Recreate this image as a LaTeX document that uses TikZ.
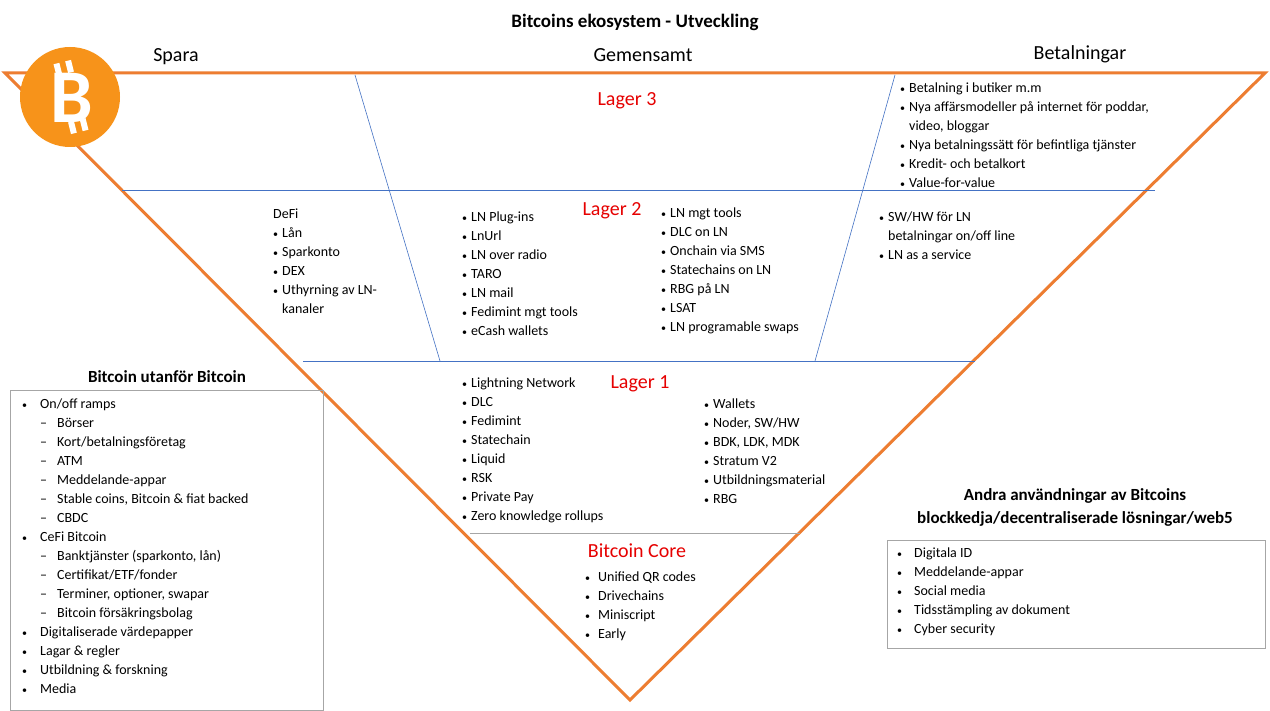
\documentclass[tikz,border=0pt]{standalone}
\usepackage{fontspec}
\setmainfont{Carlito}
\definecolor{org}{RGB}{237,125,49}
\definecolor{btc}{RGB}{247,147,26}
\definecolor{ln}{RGB}{68,114,196}
\definecolor{lred}{RGB}{230,0,0}
\newcommand\bx{{\fontsize{10}{10}\selectfont\textbullet}}
\begin{document}
\begin{tikzpicture}[x=1pt,y=-1pt,
  lst/.style={anchor=north west,inner sep=0pt,font=\fontsize{14}{19}\selectfont,align=left},
  hd/.style={font=\fontsize{20}{22}\selectfont},
  lag/.style={font=\fontsize{20}{22}\selectfont,text=lred},
  ttl/.style={font=\bfseries\fontsize{17}{23}\selectfont},
  bl/.style={line width=0.6pt,draw=ln}]
\useasboundingbox (0,0) rectangle (1270,711);
\fill[white] (0,0) rectangle (1270,711);
% triangle
\coordinate (tl) at (5,73); \coordinate (tr) at (1265,73); \coordinate (ap) at (630,700);
\draw[org,line width=3pt,line join=miter] (tl) -- (tr) -- (ap) -- cycle;
% inner lines
\coordinate (a1) at (122,190); \coordinate (a2) at (1155,190);
\coordinate (b1) at (303,361); \coordinate (b2) at (975,361);
\coordinate (c1) at (470,533); \coordinate (c2) at (800,533);
\coordinate (d1) at (355,75); \coordinate (d2) at (440,361);
\coordinate (e1) at (895,75); \coordinate (e2) at (815,361);
\draw[bl] (a1)--(a2); \draw[bl] (b1)--(b2); \draw[bl] (d1)--(d2); \draw[bl] (e1)--(e2);
\draw[line width=0.6pt,draw=gray!70] (c1)--(c2);
% logo
\fill[btc] (70,97) circle (50);
\begin{scope}[shift={(71,97)},rotate=14]
\fill[white] (-9,-36) rectangle (-3,-24); \fill[white] (3,-36) rectangle (9,-24);
\fill[white] (-9,24) rectangle (-3,36); \fill[white] (3,24) rectangle (9,36);
\node[text=white,font=\bfseries\fontsize{76}{76}\selectfont,inner sep=0] (lg) at (1,1) {B};
\end{scope}
% headings
\node[font=\bfseries\fontsize{19}{23}\selectfont] (title) at (635,22) {Bitcoins ekosystem - Utveckling};
\node[hd] (sp) at (176,57) {Spara};
\node[hd] (gm) at (643,55) {Gemensamt};
\node[hd] (bt) at (1080,54) {Betalningar};
\node[lag] (l3) at (627,101) {Lager 3};
\node[lag] (l2) at (612,211) {Lager 2};
\node[lag] (l1) at (640,384) {Lager 1};
\node[lag] (lc) at (637,551) {Bitcoin Core};
% lists
\node[lst] (p3) at (900,79) {\begin{tabular}{@{}l@{\hspace{4pt}}l@{}}
\bx & Betalning i butiker m.m\\ \bx & Nya affärsmodeller på internet för poddar,\\ & video, bloggar\\
\bx & Nya betalningssätt för befintliga tjänster\\ \bx & Kredit- och betalkort\\ \bx & Value-for-value\end{tabular}};
\node[lst] (df) at (273,205) {\begin{tabular}{@{}l@{\hspace{4pt}}l@{}}
\multicolumn{2}{@{}l}{DeFi}\\ \bx & Lån\\ \bx & Sparkonto\\ \bx & DEX\\ \bx & Uthyrning av LN-\\ & kanaler\end{tabular}};
\node[lst] (m2) at (462,208) {\begin{tabular}{@{}l@{\hspace{4pt}}l@{}}
\bx & LN Plug-ins\\ \bx & LnUrl\\ \bx & LN over radio\\ \bx & TARO\\ \bx & LN mail\\ \bx & Fedimint mgt tools\\ \bx & eCash wallets\end{tabular}};
\node[lst] (r2) at (661,204) {\begin{tabular}{@{}l@{\hspace{4pt}}l@{}}
\bx & LN mgt tools\\ \bx & DLC on LN\\ \bx & Onchain via SMS\\ \bx & Statechains on LN\\ \bx & RBG på LN\\ \bx & LSAT\\ \bx & LN programable swaps\end{tabular}};
\node[lst] (p2) at (879,208) {\begin{tabular}{@{}l@{\hspace{4pt}}l@{}}
\bx & SW/HW för LN\\ & betalningar on/off line\\ \bx & LN as a service\end{tabular}};
\node[lst] (m1) at (462,374) {\begin{tabular}{@{}l@{\hspace{4pt}}l@{}}
\bx & Lightning Network\\ \bx & DLC\\ \bx & Fedimint\\ \bx & Statechain\\ \bx & Liquid\\ \bx & RSK\\ \bx & Private Pay\\ \bx & Zero knowledge rollups\end{tabular}};
\node[lst] (r1) at (704,395) {\begin{tabular}{@{}l@{\hspace{4pt}}l@{}}
\bx & Wallets\\ \bx & Noder, SW/HW\\ \bx & BDK, LDK, MDK\\ \bx & Stratum V2\\ \bx & Utbildningsmaterial\\ \bx & RBG\end{tabular}};
\node[lst] (cr) at (585,568) {\begin{tabular}{@{}l@{\hspace{8pt}}l@{}}
\bx & Unified QR codes\\ \bx & Drivechains\\ \bx & Miniscript\\ \bx & Early\end{tabular}};
% left box
\node[ttl] (lt) at (167,377) {Bitcoin utanför Bitcoin};
\draw[gray!70,line width=0.6pt] (10,390) rectangle (323,710);
\node[lst] (lb) at (22,395) {\begin{tabular}{@{}l@{\hspace{13pt}}l@{}}
\bx & On/off ramps\\ & –\hspace{10pt}Börser\\ & –\hspace{10pt}Kort/betalningsföretag\\ & –\hspace{10pt}ATM\\
 & –\hspace{10pt}Meddelande-appar\\ & –\hspace{10pt}Stable coins, Bitcoin \& fiat backed\\ & –\hspace{10pt}CBDC\\
\bx & CeFi Bitcoin\\ & –\hspace{10pt}Banktjänster (sparkonto, lån)\\ & –\hspace{10pt}Certifikat/ETF/fonder\\
 & –\hspace{10pt}Terminer, optioner, swapar\\ & –\hspace{10pt}Bitcoin försäkringsbolag\\
\bx & Digitaliserade värdepapper\\ \bx & Lagar \& regler\\ \bx & Utbildning \& forskning\\ \bx & Media\end{tabular}};
% right box
\node[ttl,align=center] (rt) at (1075,507) {Andra användningar av Bitcoins\\blockkedja/decentraliserade lösningar/web5};
\draw[gray!70,line width=0.6pt] (887,540) rectangle (1265,648);
\node[lst] (rb) at (897,544) {\begin{tabular}{@{}l@{\hspace{12pt}}l@{}}
\bx & Digitala ID\\ \bx & Meddelande-appar\\ \bx & Social media\\ \bx & Tidsstämpling av dokument\\ \bx & Cyber security\end{tabular}};
\end{tikzpicture}
\end{document}
